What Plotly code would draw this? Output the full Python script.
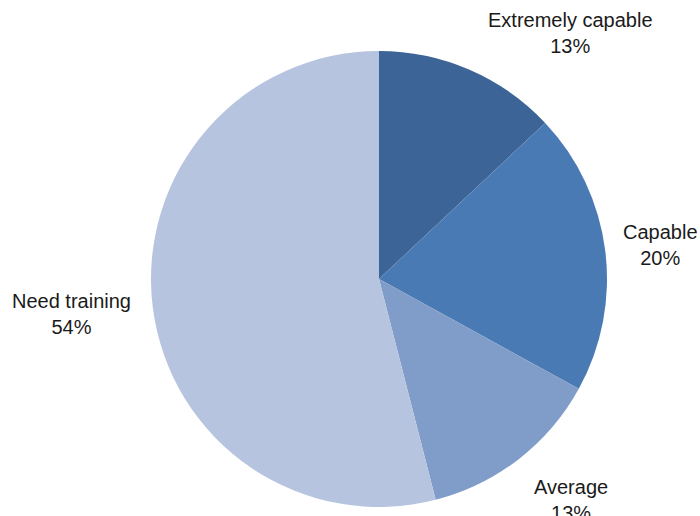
import plotly.graph_objects as go

labels = ["Extremely capable", "Capable", "Average", "Need training"]
values = [13, 20, 13, 54]
colors = ["#3C6497", "#4A7AB4", "#809DC9", "#B6C4DF"]
# label anchor positions in paper coords (x, y)
label_x = [570 / 700, 660 / 700, 571 / 700, 71 / 700]
label_y = [1 - 33 / 516, 1 - 245 / 516, 1 - 500 / 516, 1 - 314 / 516]

W, H = 700, 516
cx, cy, r = 379, 279, 228

fig = go.Figure(go.Pie(
    labels=labels,
    values=values,
    marker=dict(colors=colors, line=dict(width=0)),
    sort=False,
    direction="clockwise",
    rotation=0,
    textinfo="none",
    hoverinfo="label+percent",
    domain=dict(x=[(cx - r) / W, (cx + r) / W], y=[(H - cy - r) / H, (H - cy + r) / H]),
    showlegend=False,
))

total = sum(values)
for lab, v, x, y in zip(labels, values, label_x, label_y):
    fig.add_annotation(
        x=x, y=y, xref="paper", yref="paper",
        text=f"{lab}<br>{round(100 * v / total)}%",
        showarrow=False, xanchor="center", yanchor="middle",
        font=dict(family="Liberation Sans, Arial, sans-serif", size=20, color="#1a1a1a"),
    )

fig.update_layout(
    width=W, height=H,
    margin=dict(l=0, r=0, t=0, b=0),
    paper_bgcolor="white", plot_bgcolor="white",
)

fig.write_html(
    "out.html",
    config={"displayModeBar": False},
    post_script="document.body.style.margin='0px';document.body.style.overflow='hidden';",
)
